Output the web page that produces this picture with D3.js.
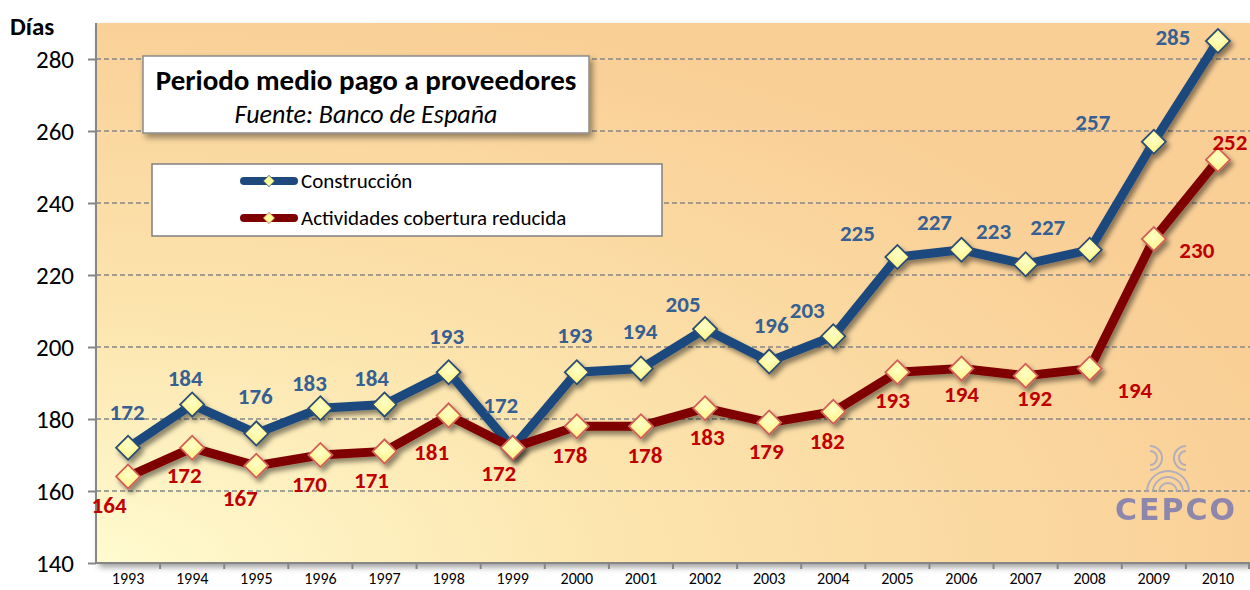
<!DOCTYPE html>
<html>
<head>
<meta charset="utf-8">
<script src="https://cdn.jsdelivr.net/npm/d3@7"></script>
<style>
  html, body { margin: 0; padding: 0; background: #fff; }
  svg { display: block; font-family: Carlito, Lato, sans-serif; }
</style>
</head>
<body>
<div id="chart"></div>
<script>
// Periodo medio pago a proveedores (Banco de España)
const years = ['1993','1994','1995','1996','1997','1998','1999','2000','2001','2002','2003','2004','2005','2006','2007','2008','2009','2010'];
const construccion = [172, 184, 176, 183, 184, 193, 172, 193, 194, 205, 196, 203, 225, 227, 223, 227, 257, 285];
const actividades  = [164, 172, 167, 170, 171, 181, 172, 178, 178, 183, 179, 182, 193, 194, 192, 194, 230, 252];
const yTicks = [140, 160, 180, 200, 220, 240, 260, 280];
const seriesNames = ['Construcción', 'Actividades cobertura reducida'];

// label placement relative to each point (pixels)
const labelOffsetBlue = [[-1,-36],[-7,-27],[-1,-37],[-11,-25],[-13,-27],[-2,-36],[-12,-43],[-2,-37],[-1,-38],[-22,-25],[2,-36],[-26,-26],[-40,-24],[-27,-28],[-32,-33],[-42,-23],[-61,-20],[-45,-4]];
const labelOffsetRed = [[-19,28],[-8,27],[-16,32],[-11,29],[-13,29],[-17,37],[-14,25],[-7,29],[4,29],[2,29],[-3,28],[-6,29],[-5,28],[0,25],[9,22],[45,21],[43,11],[12,-18]];

(function () {
  const W = 1250, H = 590;
  const plot = { left: 96, top: 23, right: 1250, bottom: 563 };

  const svg = d3.select('#chart').append('svg').attr('width', W).attr('height', H);
  const defs = svg.append('defs');

  const bg = defs.append('radialGradient').attr('id', 'bg').attr('cx', 0).attr('cy', 1).attr('r', 1.05).attr('fx', 0).attr('fy', 1);
  bg.append('stop').attr('offset', 0).attr('stop-color', '#FFFBD0');
  bg.append('stop').attr('offset', 0.45).attr('stop-color', '#FCE4AD');
  bg.append('stop').attr('offset', 1).attr('stop-color', '#F9CF96');

  const mk = defs.append('radialGradient').attr('id', 'mk').attr('cx', 0.4).attr('cy', 0.4).attr('r', 0.7);
  mk.append('stop').attr('offset', 0).attr('stop-color', '#FFFFC8');
  mk.append('stop').attr('offset', 1).attr('stop-color', '#FFF58C');

  const shadow = defs.append('filter').attr('id', 'shadow').attr('x', '-20%').attr('y', '-20%').attr('width', '140%').attr('height', '160%');
  shadow.append('feDropShadow').attr('dx', 3).attr('dy', 4).attr('stdDeviation', 2.5).attr('flood-color', '#000').attr('flood-opacity', 0.45);
  const boxShadow = defs.append('filter').attr('id', 'boxShadow').attr('x', '-10%').attr('y', '-20%').attr('width', '130%').attr('height', '160%');
  boxShadow.append('feDropShadow').attr('dx', 3).attr('dy', 4).attr('stdDeviation', 3).attr('flood-color', '#000').attr('flood-opacity', 0.4);

  const x = d3.scaleBand().domain(years).range([plot.left, plot.right]);
  const y = d3.scaleLinear().domain([140, 290]).range([plot.bottom, plot.top]);
  const cx = d => x(d) + x.bandwidth() / 2;

  // plot area
  svg.append('rect').attr('x', plot.left).attr('y', plot.top)
    .attr('width', plot.right - plot.left).attr('height', plot.bottom - plot.top)
    .attr('fill', 'url(#bg)').attr('filter', 'url(#boxShadow)');

  // gridlines
  svg.append('g').selectAll('line').data(yTicks.filter(t => t > 140)).join('line')
    .attr('x1', plot.left).attr('x2', plot.right)
    .attr('y1', d => y(d)).attr('y2', d => y(d))
    .attr('stroke', '#868686').attr('stroke-width', 1.5).attr('stroke-dasharray', '5,3');

  // y axis
  const yAxis = svg.append('g').attr('transform', `translate(${plot.left},0)`)
    .call(d3.axisLeft(y).tickValues(yTicks).tickSize(8).tickPadding(14));
  yAxis.select('.domain').attr('stroke', '#868686').attr('stroke-width', 2).attr('d', `M0,${plot.top}V${plot.bottom}`);
  yAxis.selectAll('.tick line').attr('stroke', '#868686').attr('stroke-width', 2);
  yAxis.selectAll('.tick text').attr('font-family', 'Carlito, Lato, sans-serif').attr('font-size', 25).attr('fill', '#000');

  // x axis
  const xAxis = svg.append('g').attr('transform', `translate(0,${plot.bottom})`)
    .call(d3.axisBottom(x).tickSize(0).tickPadding(10));
  xAxis.select('.domain').attr('stroke', '#868686').attr('stroke-width', 2).attr('d', `M${plot.left},0H${plot.right}`);
  xAxis.selectAll('.tick text').attr('font-family', 'Carlito, Lato, sans-serif').attr('font-size', 16).attr('fill', '#000');
  xAxis.append('g').selectAll('line').data(years.slice(1).concat(['end'])).join('line')
    .attr('x1', d => d === 'end' ? plot.right - 1 : x(d)).attr('x2', d => d === 'end' ? plot.right - 1 : x(d))
    .attr('y1', 0).attr('y2', 6).attr('stroke', '#868686').attr('stroke-width', 2);

  svg.append('text').attr('x', 10).attr('y', 35).attr('font-size', 25).attr('font-weight', 'bold').text('Días');

  // CEPCO logo (approximate)
  const logo = svg.append('g').attr('opacity', 0.85);
  const arcs = [10, 16, 22];
  logo.selectAll('path.a').data(arcs).join('path')
    .attr('d', r => d3.arc()({ innerRadius: r - 2, outerRadius: r, startAngle: -Math.PI / 2, endAngle: Math.PI / 2 }))
    .attr('transform', 'translate(1168,492)').attr('fill', '#A8A8C0');
  logo.selectAll('path.b').data([8, 13]).join('path')
    .attr('d', r => d3.arc()({ innerRadius: r - 2, outerRadius: r, startAngle: 0, endAngle: Math.PI }))
    .attr('transform', 'translate(1150,458)').attr('fill', '#A8A8C0');
  logo.selectAll('path.c').data([8, 13]).join('path')
    .attr('d', r => d3.arc()({ innerRadius: r - 2, outerRadius: r, startAngle: Math.PI, endAngle: 2 * Math.PI }))
    .attr('transform', 'translate(1186,458)').attr('fill', '#A8A8C0');
  logo.append('text').attr('x', 1176).attr('y', 520).attr('text-anchor', 'middle')
    .attr('font-family', 'DejaVu Sans, sans-serif').attr('font-weight', 'bold').attr('font-size', 30)
    .attr('letter-spacing', 2).attr('fill', '#7C7AB0').text('CEPCO');

  const series = [
    { name: seriesNames[0], values: construccion, line: '#1F497D', marker: '#2C4D75', label: '#376092', offs: labelOffsetBlue },
    { name: seriesNames[1], values: actividades, line: '#7F0000', marker: '#D0605C', label: '#C00000', offs: labelOffsetRed }
  ];

  const line = d3.line().x((d, i) => cx(years[i])).y(d => y(d));

  series.forEach(s => {
    const g = svg.append('g').attr('filter', 'url(#shadow)');
    g.append('path').attr('d', line(s.values)).attr('fill', 'none')
      .attr('stroke', s.line).attr('stroke-width', 9).attr('stroke-linejoin', 'miter');
    g.selectAll('rect').data(s.values).join('rect')
      .attr('x', -8.5).attr('y', -8.5).attr('width', 17).attr('height', 17)
      .attr('transform', (d, i) => `translate(${cx(years[i])},${y(d)}) rotate(45)`)
      .attr('fill', 'url(#mk)').attr('stroke', s.marker).attr('stroke-width', 1.8);
  });

  series.forEach(s => {
    svg.append('g').selectAll('text').data(s.values).join('text')
      .attr('x', (d, i) => cx(years[i]) + s.offs[i][0])
      .attr('y', (d, i) => y(d) + s.offs[i][1])
      .attr('dy', '0.35em').attr('text-anchor', 'middle')
      .attr('font-size', 23).attr('font-weight', 'bold').attr('fill', s.label)
      .text(d => d);
  });

  // title box
  svg.append('rect').attr('x', 143).attr('y', 56).attr('width', 446).attr('height', 77)
    .attr('fill', '#fff').attr('stroke', '#8C8C8C').attr('stroke-width', 1.5).attr('filter', 'url(#boxShadow)');
  svg.append('text').attr('x', 366).attr('y', 90).attr('text-anchor', 'middle')
    .attr('font-size', 29).attr('font-weight', 'bold').text('Periodo medio pago a proveedores');
  svg.append('text').attr('x', 366).attr('y', 123).attr('text-anchor', 'middle')
    .attr('font-size', 26).attr('font-style', 'italic').text('Fuente: Banco de España');

  // legend
  svg.append('rect').attr('x', 152).attr('y', 164).attr('width', 510).attr('height', 72)
    .attr('fill', '#fff').attr('stroke', '#808080').attr('stroke-width', 1.5);
  const lg = svg.append('g').selectAll('g').data(series).join('g')
    .attr('transform', (d, i) => `translate(0,${181 + i * 37})`);
  lg.append('line').attr('x1', 244).attr('x2', 294).attr('y1', 0).attr('y2', 0)
    .attr('stroke', d => d.line).attr('stroke-width', 8).attr('stroke-linecap', 'round');
  lg.append('rect').attr('x', -4).attr('y', -4).attr('width', 8).attr('height', 8)
    .attr('transform', 'translate(269,0) rotate(45)').attr('fill', '#FFFF99').attr('stroke', d => d.marker).attr('stroke-width', 0.8);
  lg.append('text').attr('x', 301).attr('y', 0).attr('dy', '0.35em').attr('font-size', 21).text(d => d.name);
})();
</script>
</body>
</html>
